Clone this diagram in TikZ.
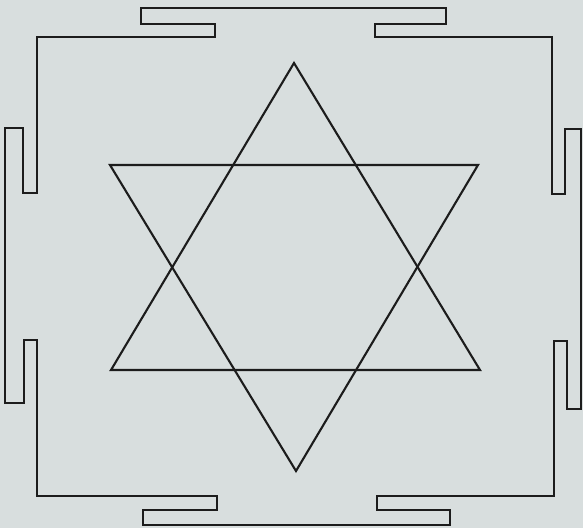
\documentclass[tikz,border=0pt]{standalone}
\usepackage{xcolor}
\usepackage{tikz}
\usetikzlibrary{calc}
\definecolor{paperbg}{RGB}{216,222,222}
\definecolor{inkc}{RGB}{28,28,28}
\tikzset{
  wall/.style={draw=inkc,line width=2.3pt,line join=miter},
  trikona/.style={draw=inkc,line width=2.1pt,line join=miter},
}

\begin{document}
\begin{tikzpicture}[x=1pt,y=-1pt]
  \useasboundingbox (0,0) rectangle (583,528);
  \fill[paperbg] (0,0) rectangle (583,528);

  % outer enclosure with the four gates
  \draw[wall] (37,37) -- (215,37) -- (215,24) -- (141,24) -- (141,8)
    -- (446,8) -- (446,24) -- (375,24) -- (375,37)
    -- (552,37) -- (552,194) -- (565,194) -- (565,129) -- (581,129)
    -- (581,409) -- (567,409) -- (567,341) -- (554,341)
    -- (554,496) -- (377,496) -- (377,510) -- (450,510) -- (450,525)
    -- (143,525) -- (143,510) -- (217,510) -- (217,496)
    -- (37,496) -- (37,340) -- (24,340) -- (24,403) -- (5,403)
    -- (5,128) -- (23,128) -- (23,193) -- (37,193) -- cycle;

  % the two triangles
  \coordinate (up) at (294,63);
  \coordinate (upL) at (111,370);
  \coordinate (upR) at (480,370);
  \coordinate (dn) at (296,471);
  \coordinate (dnL) at (110,165);
  \coordinate (dnR) at (478,165);
  \draw[trikona] (up) -- (upR) -- (upL) -- cycle;
  \draw[trikona] (dn) -- (dnL) -- (dnR) -- cycle;
\end{tikzpicture}
\end{document}
